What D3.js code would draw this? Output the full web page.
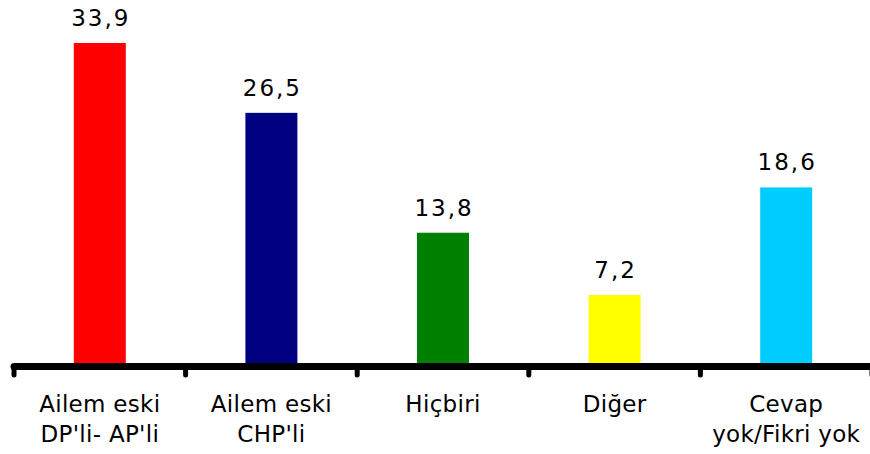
<!DOCTYPE html>
<html>
<head>
<meta charset="utf-8">
<script src="https://cdn.jsdelivr.net/npm/d3@7"></script>
<style>
  body { margin: 0; background: #fff; }
  svg text { font-family: "DejaVu Sans", Verdana, sans-serif; fill: #000; }
</style>
</head>
<body>
<div id="chart"></div>
<script>
// 데이터
const categories = ["Ailem eski\nDP'li- AP'li", "Ailem eski\nCHP'li", "Hiçbiri", "Diğer", "Cevap\nyok/Fikri yok"];
const values = [33.9, 26.5, 13.8, 7.2, 18.6];
const valueLabels = ["33,9", "26,5", "13,8", "7,2", "18,6"];
const colors = ["#ff0000", "#000080", "#008000", "#ffff00", "#00ccff"];

const W = 870, H = 454;
const baseY = 363;

const svg = d3.select("#chart").append("svg")
    .attr("width", W)
    .attr("height", H);

const x = d3.scaleBand()
    .domain(categories)
    .range([14, 872])
    .paddingInner(0.697)
    .paddingOuter(0.3485);

const y = d3.scaleLinear()
    .domain([0, 35])
    .range([baseY, baseY - 35 * 9.44]);

// 막대
svg.selectAll(".bar")
    .data(values)
    .enter().append("rect")
    .attr("class", "bar")
    .attr("x", (d, i) => x(categories[i]))
    .attr("y", d => y(d))
    .attr("width", x.bandwidth())
    .attr("height", d => y(0) - y(d))
    .attr("fill", (d, i) => colors[i]);

// 값 레이블
svg.selectAll(".val")
    .data(values)
    .enter().append("text")
    .attr("class", "val")
    .attr("x", (d, i) => x(categories[i]) + x.bandwidth() / 2 + 1)
    .attr("y", d => y(d) - 17)
    .attr("text-anchor", "middle")
    .style("font-size", "23px")
    .style("letter-spacing", "2px")
    .text((d, i) => valueLabels[i]);

// x축 선 + 눈금
const tickScale = d3.scaleLinear().domain([0, categories.length]).range([14, 872]);
svg.append("line")
    .attr("x1", 14).attr("x2", 880)
    .attr("y1", baseY + 3.5).attr("y2", baseY + 3.5)
    .attr("stroke", "#000")
    .attr("stroke-width", 7)
    .attr("stroke-linecap", "round");

svg.selectAll(".tick")
    .data(d3.range(categories.length + 1))
    .enter().append("line")
    .attr("class", "tick")
    .attr("x1", d => tickScale(d)).attr("x2", d => tickScale(d))
    .attr("y1", baseY + 4).attr("y2", baseY + 12)
    .attr("stroke", "#000")
    .attr("stroke-width", 5)
    .attr("stroke-linecap", "round");

// 카테고리 레이블
const lbl = svg.selectAll(".cat")
    .data(categories)
    .enter().append("text")
    .attr("class", "cat")
    .attr("x", d => x(d) + x.bandwidth() / 2)
    .attr("y", 412)
    .attr("text-anchor", "middle")
    .style("font-size", "23px")
    .style("letter-spacing", "0.3px");

lbl.selectAll("tspan")
    .data(d => d.split("\n"))
    .enter().append("tspan")
    .attr("x", function() { return d3.select(this.parentNode).attr("x"); })
    .attr("dy", (d, i) => i === 0 ? 0 : 30)
    .text(d => d);
</script>
</body>
</html>
